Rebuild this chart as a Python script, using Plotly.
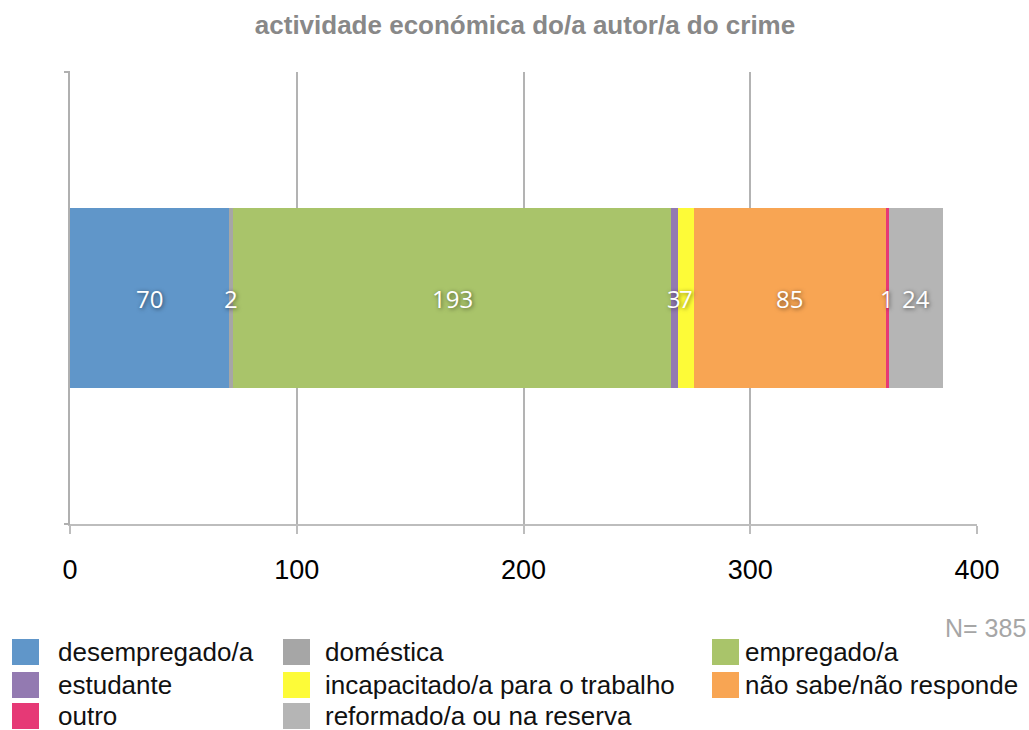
import plotly.graph_objects as go

categories = ["desempregado/a", "doméstica", "empregado/a", "estudante",
              "incapacitado/a para o trabalho", "não sabe/não responde",
              "outro", "reformado/a ou na reserva"]
values = [70, 2, 193, 3, 7, 85, 1, 24]
colors = ["#6096c9", "#a6a6a6", "#a9c46a", "#937ab1",
          "#fdfb38", "#f8a553", "#e63976", "#b5b5b5"]
x_ticks = [0, 100, 200, 300, 400]
row_label = "autor"
total_label = "N= 385"
title_text = "actividade económica do/a autor/a do crime"

W, H = 1029, 730
L, R, T, B = 70, 52, 72, 206
pw, ph = W - L - R, H - T - B
FONT = "Liberation Sans"

def px(xp):
    return (xp - L) / pw

def py(yp):
    return (H - B - yp) / ph

fig = go.Figure()
for c, v, col in zip(categories, values, colors):
    fig.add_trace(go.Bar(x=[v], y=[row_label], orientation="h", name=c,
                         marker=dict(color=col, line=dict(width=0)),
                         width=0.4, showlegend=False, hoverinfo="x+name"))

# data labels (centered on each segment)
start = 0
for v in values:
    fig.add_annotation(x=start + v / 2, y=row_label, text=str(v), showarrow=False,
                       font=dict(family="Open Sans", size=24, color="white",
                                 shadow="1px 1px 4px rgba(0,0,0,0.55)"),
                       xanchor="center", yanchor="middle")
    start += v

# manual legend: 3 columns
sw_x = [12, 283, 712]
tx_x = [56, 323, 743]
row_y = [652, 685, 716]
for i, (c, col) in enumerate(zip(categories, colors)):
    r, k = divmod(i, 3)
    yc = row_y[r]
    fig.add_shape(type="rect", xref="paper", yref="paper",
                  x0=px(sw_x[k]), x1=px(sw_x[k] + 27),
                  y0=py(yc + 13), y1=py(yc - 13),
                  fillcolor=col, line=dict(width=0))
    fig.add_annotation(xref="paper", yref="paper", x=px(tx_x[k]), y=py(yc),
                       text=c, showarrow=False, xanchor="left", yanchor="middle",
                       font=dict(family=FONT, size=26, color="#111111"))

fig.add_annotation(xref="paper", yref="paper", x=px(1028), y=py(628),
                   text=total_label, showarrow=False, xanchor="right", yanchor="middle",
                   font=dict(family=FONT, size=25, color="#a6a6a6"))

# small y-axis ticks at top and bottom
for yy in [T, H - B]:
    fig.add_shape(type="line", xref="paper", yref="paper",
                  x0=px(64), x1=px(70), y0=py(yy), y1=py(yy),
                  line=dict(color="#b0b0b0", width=2))

fig.update_layout(
    width=W, height=H,
    margin=dict(l=L, r=R, t=T, b=B, autoexpand=False),
    barmode="stack",
    plot_bgcolor="white", paper_bgcolor="white",
    title=dict(text="<b>" + title_text + "</b>", x=525 / W, xanchor="center",
               y=1 - 25 / H, yanchor="middle",
               font=dict(family=FONT, size=26, color="#888888")),
    xaxis=dict(range=[0, 400], tickvals=x_ticks, showgrid=True,
               gridcolor="#b3b3b3", gridwidth=2, zeroline=False,
               showline=True, linecolor="#bdbdbd", linewidth=2,
               ticks="outside", ticklen=8, tickcolor="#bdbdbd", tickwidth=2,
               ticklabelstandoff=13,
               tickfont=dict(family=FONT, size=27, color="#000000")),
    yaxis=dict(showticklabels=False, showgrid=False, zeroline=False,
               showline=True, linecolor="#b0b0b0", linewidth=2,
               range=[-0.5, 0.5]),
)

fig.write_html("out.html", config={"displayModeBar": False},
               post_script="document.body.style.margin='0px';")
